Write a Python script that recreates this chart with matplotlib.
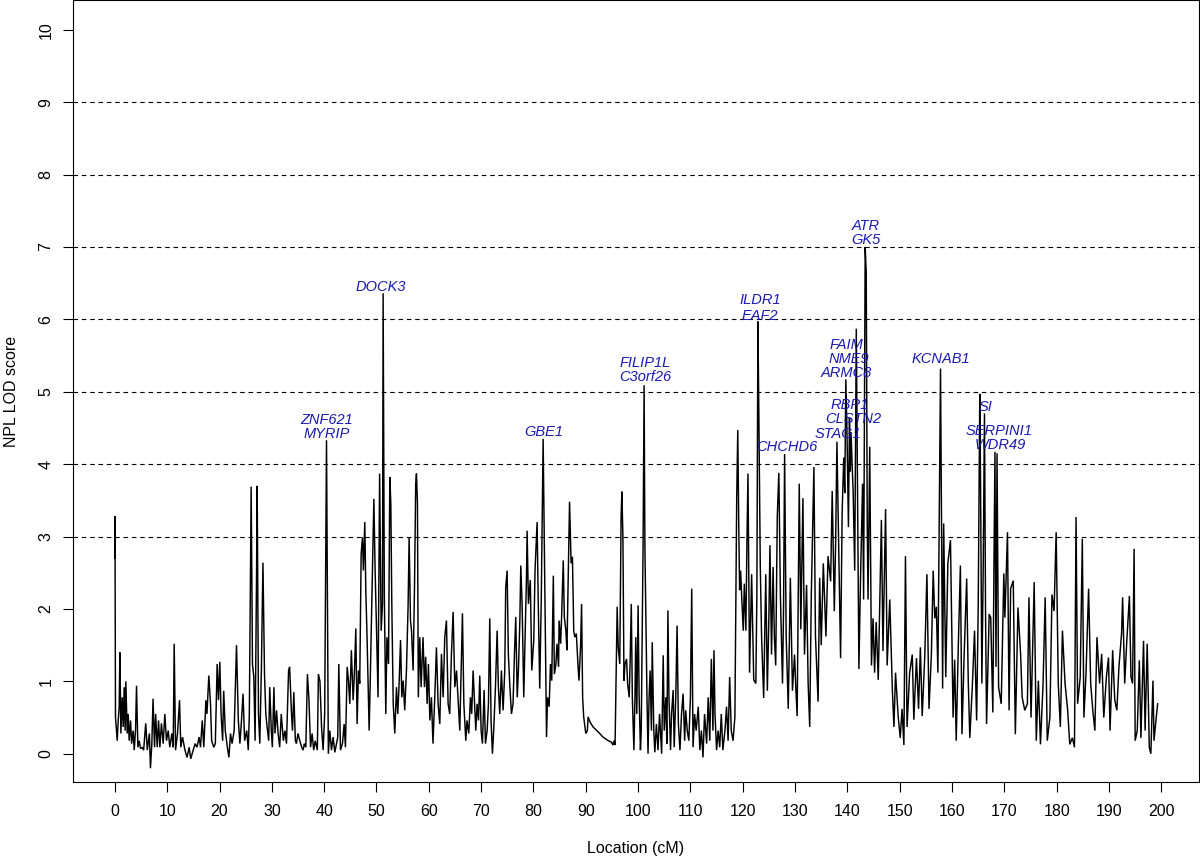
import matplotlib
matplotlib.use("Agg")
import matplotlib.pyplot as plt

plt.rcParams['font.family'] = ['Liberation Sans', 'DejaVu Sans']
plt.rcParams['lines.scale_dashes'] = False

# NPL LOD score along the chromosome, (location cM, LOD)
seg_000_041 = [
    (0.0, 2.7), (0.02, 3.28), (0.12, 0.5), (0.45, 0.18), (0.64, 0.46), (0.83, 0.65),
    (0.96, 1.4), (1.15, 0.28), (1.4, 0.78), (1.6, 0.37), (1.78, 0.92), (1.97, 0.32),
    (2.1, 1.0), (2.36, 0.28), (2.55, 0.55), (2.74, 0.18), (3.0, 0.46), (3.2, 0.14),
    (3.5, 0.32), (3.7, 0.05), (3.95, 0.32), (4.14, 0.94), (4.4, 0.09), (4.65, 0.18),
    (4.9, 0.07), (5.2, 0.09), (5.5, 0.05), (5.9, 0.42), (6.2, 0.05), (6.6, 0.28),
    (6.8, -0.2), (7.07, 0.14), (7.3, 0.76), (7.58, 0.09), (7.8, 0.55), (8.09, 0.09),
    (8.35, 0.46), (8.6, 0.09), (8.9, 0.42), (9.24, 0.14), (9.55, 0.55), (9.87, 0.18),
    (10.2, 0.32), (10.5, 0.09), (10.9, 0.28), (11.15, 0.09), (11.34, 1.52), (11.6, 0.05),
    (11.97, 0.28), (12.36, 0.74), (12.6, 0.09), (12.93, 0.23), (13.4, 0.05), (13.8, -0.05),
    (14.2, 0.09), (14.5, -0.07), (14.97, 0.05), (15.35, 0.14), (15.7, 0.09), (16.1, 0.23),
    (16.37, 0.09), (16.7, 0.46), (17.0, 0.09), (17.4, 0.74), (17.6, 0.55), (17.96, 1.08),
    (18.28, 0.69), (18.5, 0.18), (18.9, 0.09), (19.2, 0.14), (19.55, 1.24), (19.8, 0.74),
    (20.06, 1.27), (20.3, 0.55), (20.6, 0.18), (20.8, 0.87), (21.1, 0.32), (21.5, 0.09),
    (21.8, -0.05), (22.1, 0.28), (22.4, 0.14), (22.8, 0.32), (23.25, 1.5), (23.6, 0.46),
    (23.9, 0.14), (24.2, 0.46), (24.5, 0.83), (24.8, 0.18), (25.2, 0.32), (25.5, 0.05),
    (25.7, 0.55), (25.9, 2.4), (26.05, 3.69), (26.3, 1.24), (26.56, 1.06), (26.8, 0.18),
    (27.07, 2.4), (27.2, 3.7), (27.45, 0.55), (27.7, 0.14), (28.0, 1.15), (28.3, 2.64),
    (28.6, 1.1), (28.85, 0.55), (29.1, 0.37), (29.4, 0.18), (29.6, 0.92), (29.9, 0.32),
    (30.1, 0.09), (30.4, 0.92), (30.6, 0.28), (30.9, 0.6), (31.2, 0.28), (31.5, 0.09),
    (31.8, 0.55), (32.2, 0.18), (32.5, 0.32), (32.8, 0.14), (33.2, 1.15), (33.4, 1.2),
    (33.76, 0.55), (33.95, 0.32), (34.2, 0.85), (34.5, 0.18), (34.7, 0.14), (35.0, 0.28),
    (35.35, 0.18), (35.7, 0.09), (35.98, 0.05), (36.2, 0.14), (36.5, 0.09), (36.8, 1.1),
    (37.1, 0.74), (37.4, 0.09), (37.7, 0.28), (38.0, 0.05), (38.3, 0.18), (38.7, 0.05),
    (38.9, 1.1), (39.2, 1.0), (39.5, 0.37), (39.8, 0.05), (40.1, 0.55), (40.45, 4.33),
    (40.8, 0.0),
]
seg_041_081 = [
    (41.08, 0.32), (41.4, 0.05), (41.72, 0.23), (42.04, 0.02), (42.35, 0.14), (42.6, 0.23),
    (42.8, 1.24), (43.12, 0.05), (43.5, 0.14), (43.82, 0.41), (44.07, 0.09), (44.4, 1.2),
    (44.65, 1.01), (44.9, 0.69), (45.2, 1.43), (45.54, 0.74), (45.8, 1.15), (46.05, 1.73),
    (46.3, 0.41), (46.56, 1.15), (46.8, 0.97), (47.07, 2.76), (47.32, 2.99), (47.5, 2.53),
    (47.77, 3.2), (47.96, 2.26), (48.2, 1.61), (48.6, 0.32), (48.85, 1.15), (49.1, 2.07),
    (49.5, 3.52), (49.74, 2.53), (50.0, 1.75), (50.3, 0.78), (50.6, 3.87), (50.9, 1.7),
    (51.15, 2.07), (51.27, 6.36), (51.5, 2.21), (51.78, 0.55), (52.0, 1.61), (52.3, 1.24),
    (52.55, 3.82), (52.74, 3.46), (52.93, 2.07), (53.2, 0.69), (53.5, 0.28), (53.82, 0.92),
    (54.07, 0.55), (54.3, 0.92), (54.6, 1.57), (54.84, 0.78), (55.1, 1.01), (55.4, 0.6),
    (55.73, 1.15), (56.05, 2.07), (56.24, 2.99), (56.5, 1.84), (56.7, 1.7), (57.0, 1.15),
    (57.26, 2.26), (57.5, 3.73), (57.64, 3.87), (57.83, 3.46), (58.0, 0.78), (58.28, 1.61),
    (58.53, 0.92), (58.9, 1.61), (59.17, 0.92), (59.4, 1.34), (59.68, 0.69), (59.93, 1.24),
    (60.2, 0.46), (60.5, 0.78), (60.8, 0.14), (61.14, 0.78), (61.46, 1.47), (61.78, 0.69),
    (62.1, 0.41), (62.42, 1.38), (62.74, 0.78), (63.05, 1.61), (63.37, 1.84), (63.69, 0.69),
    (64.0, 0.55), (64.33, 1.38), (64.65, 1.96), (64.97, 0.92), (65.3, 1.15), (65.6, 0.74),
    (65.92, 0.32), (66.18, 1.15), (66.43, 1.94), (66.7, 0.69), (67.07, 0.18), (67.3, 0.46),
    (67.64, 0.28), (67.96, 0.78), (68.2, 0.55), (68.47, 1.15), (68.7, 0.78), (68.98, 0.32),
    (69.23, 0.69), (69.5, 0.46), (69.74, 1.08), (70.0, 0.32), (70.25, 0.14), (70.57, 0.88),
    (70.83, 0.14), (71.15, 0.32), (71.4, 0.69), (71.65, 1.87), (71.9, 0.46), (72.16, 0.0),
    (72.4, 0.32), (72.74, 0.92), (73.06, 1.7), (73.3, 0.92), (73.56, 0.55), (73.88, 1.15),
    (74.2, 0.6), (74.52, 1.15), (74.7, 2.3), (74.97, 2.53), (75.2, 1.38), (75.5, 0.92),
    (75.8, 0.55), (76.1, 0.69), (76.37, 1.38), (76.62, 1.89), (76.9, 0.78), (77.13, 1.15),
    (77.4, 1.84), (77.58, 2.6), (77.83, 2.07), (78.15, 0.78), (78.4, 1.61), (78.66, 2.4),
    (78.79, 3.08), (79.04, 2.07), (79.4, 2.4), (79.68, 1.15), (80.06, 1.57), (80.3, 2.53),
    (80.7, 3.2), (80.9, 2.17),
]
seg_081_121 = [
    (81.2, 0.9), (81.5, 2.17), (81.85, 4.35), (82.2, 2.17), (82.5, 0.23), (82.7, 0.78),
    (83.0, 0.65), (83.25, 1.24), (83.5, 1.01), (83.8, 2.46), (84.0, 1.1), (84.3, 1.24),
    (84.5, 1.52), (84.8, 1.2), (84.9, 1.84), (85.2, 1.52), (85.4, 1.93), (85.7, 2.67),
    (85.9, 1.89), (86.2, 1.7), (86.4, 1.43), (86.7, 2.63), (86.9, 3.48), (87.2, 2.63),
    (87.45, 2.72), (87.7, 1.7), (87.9, 1.61), (88.2, 1.66), (88.5, 1.24), (88.7, 1.01),
    (89.0, 1.47), (89.2, 2.07), (89.4, 0.78), (89.6, 0.51), (90.0, 0.28), (90.3, 0.32),
    (90.45, 0.51), (90.8, 0.44), (91.4, 0.37), (92.4, 0.3), (93.3, 0.23), (94.3, 0.18),
    (94.9, 0.16), (95.2, 0.12), (95.4, 0.18), (95.6, 0.12), (96.0, 2.03), (96.2, 1.47),
    (96.5, 1.24), (96.75, 3.27), (96.9, 3.62), (97.0, 3.27), (97.1, 2.99), (97.3, 1.01),
    (97.5, 1.24), (97.8, 1.31), (98.0, 0.97), (98.3, 0.78), (98.5, 1.34), (98.7, 2.07),
    (98.9, 0.78), (99.2, 0.05), (99.4, 0.78), (99.55, 1.61), (99.75, 0.55), (100.0, 2.05),
    (100.2, 0.78), (100.45, 0.05), (100.6, 0.32), (100.8, 1.7), (100.95, 2.86), (101.15, 5.09),
    (101.3, 2.86), (101.5, 1.8), (101.7, 0.78), (101.9, 0.0), (102.1, 0.78), (102.3, 1.15),
    (102.55, 0.32), (102.7, 1.54), (103.0, 0.32), (103.2, 0.02), (103.5, 0.41), (103.8, 0.05),
    (104.1, 0.55), (104.5, 0.0), (104.8, 1.36), (105.0, 0.32), (105.3, 0.78), (105.5, 0.14),
    (105.7, 1.98), (105.9, 0.78), (106.2, 0.05), (106.4, 0.55), (106.7, 0.88), (106.9, 0.09),
    (107.2, 0.78), (107.45, 1.77), (107.7, 0.41), (108.0, 0.05), (108.3, 0.55), (108.6, 0.83),
    (108.9, 0.18), (109.1, 0.6), (109.4, 0.32), (109.7, 0.18), (110.0, 0.78), (110.25, 2.28),
    (110.5, 0.09), (110.8, 0.55), (111.1, 0.32), (111.5, 0.65), (111.8, 0.05), (112.1, 0.32),
    (112.4, -0.05), (112.7, 0.55), (113.1, 0.14), (113.4, 0.78), (113.7, 0.18), (114.0, 1.31),
    (114.3, 0.32), (114.5, 1.43), (114.7, 0.55), (115.0, 0.05), (115.3, 0.32), (115.6, 0.09),
    (115.9, 0.55), (116.2, 0.05), (116.6, 0.32), (116.9, 0.65), (117.2, 0.18), (117.5, 1.06),
    (117.8, 0.32), (118.15, 0.18), (118.5, 0.51), (118.7, 2.35), (118.85, 3.55), (119.05, 4.47),
    (119.25, 3.08), (119.4, 2.26), (119.6, 2.53), (119.8, 2.17), (120.1, 1.7), (120.3, 2.35),
    (120.6, 1.7), (120.8, 2.9), (121.0, 3.87),
]
seg_121_158 = [
    (121.3, 1.12), (121.7, 2.48), (122.1, 1.02), (122.5, 0.97), (122.7, 2.2), (122.9, 5.97),
    (123.1, 4.54), (123.35, 2.6), (123.6, 1.62), (124.0, 0.77), (124.4, 2.48), (124.7, 0.87),
    (125.0, 1.9), (125.2, 2.88), (125.5, 1.37), (125.8, 2.58), (126.05, 1.6), (126.3, 1.22),
    (126.6, 3.28), (126.9, 3.88), (127.2, 2.18), (127.6, 0.97), (127.8, 2.0), (128.0, 4.14),
    (128.3, 1.62), (128.7, 0.62), (129.1, 2.43), (129.5, 0.87), (129.9, 1.37), (130.15, 0.9),
    (130.4, 0.52), (130.8, 3.73), (131.1, 1.72), (131.5, 3.53), (131.8, 1.37), (132.2, 2.33),
    (132.5, 0.97), (132.8, 0.37), (133.1, 2.18), (133.6, 3.96), (133.9, 1.62), (134.4, 0.72),
    (134.7, 2.43), (135.0, 1.5), (135.4, 2.63), (135.9, 1.62), (136.3, 2.73), (136.8, 2.38),
    (137.1, 3.63), (137.5, 1.97), (137.75, 2.9), (138.0, 4.31), (138.4, 2.63), (138.7, 1.32),
    (139.0, 3.33), (139.3, 4.09), (139.5, 3.6), (139.7, 5.17), (139.9, 4.54), (140.2, 3.13),
    (140.4, 4.64), (140.55, 3.9), (140.7, 4.44), (140.9, 4.0), (141.1, 3.63), (141.4, 2.53),
    (141.7, 5.87), (142.0, 3.13), (142.2, 1.17), (142.5, 2.38), (142.9, 3.73), (143.1, 2.13),
    (143.4, 7.0), (143.6, 6.65), (143.8, 3.13), (143.95, 2.13), (144.27, 4.24), (144.6, 1.22),
    (144.9, 1.87), (145.2, 1.12), (145.5, 1.82), (145.9, 1.02), (146.5, 3.23), (146.8, 1.42),
    (147.3, 3.38), (147.6, 1.22), (148.1, 2.13), (148.6, 0.87), (148.9, 0.37), (149.2, 1.12),
    (149.7, 0.52), (150.1, 0.22), (150.45, 0.62), (150.8, 0.12), (151.1, 2.73), (151.4, 0.37),
    (151.9, 1.12), (152.4, 1.37), (152.7, 0.47), (153.2, 1.32), (153.6, 0.62), (153.95, 1.47),
    (154.3, 0.52), (154.8, 1.37), (155.2, 2.48), (155.6, 0.62), (156.05, 1.37), (156.4, 2.53),
    (156.7, 1.87), (157.0, 2.03), (157.3, 1.12), (157.8, 5.32),
]
seg_158_200 = [
    (158.2, 0.9), (158.4, 3.18), (158.8, 1.06), (159.2, 2.63), (159.7, 2.95), (160.2, 0.5),
    (160.5, 1.3), (160.8, 0.18), (161.2, 1.5), (161.6, 2.6), (161.9, 0.27), (162.3, 1.33),
    (162.8, 2.42), (163.1, 1.0), (163.4, 0.22), (163.9, 0.97), (164.3, 1.7), (164.7, 0.46),
    (165.0, 2.0), (165.3, 4.97), (165.45, 3.73), (165.7, 0.97), (165.95, 2.5), (166.2, 4.7),
    (166.4, 2.0), (166.6, 0.41), (167.1, 1.93), (167.4, 1.88), (167.8, 0.57), (168.0, 2.5),
    (168.2, 4.17), (168.4, 1.2), (168.6, 4.15), (168.9, 0.92), (169.4, 0.69), (169.9, 2.49),
    (170.1, 1.88), (170.6, 3.06), (170.9, 0.6), (171.2, 2.28), (171.7, 2.39), (172.1, 0.27),
    (172.6, 2.02), (173.1, 1.38), (173.4, 0.78), (173.9, 0.6), (174.4, 0.69), (174.7, 2.16),
    (175.1, 0.5), (175.7, 2.37), (176.1, 0.18), (176.5, 1.01), (176.9, 0.13), (177.4, 0.97),
    (177.8, 2.16), (178.2, 0.18), (178.7, 0.5), (179.1, 2.2), (179.5, 1.97), (179.9, 3.06),
    (180.3, 0.97), (180.7, 0.37), (181.1, 1.7), (181.6, 0.97), (182.1, 0.6), (182.5, 0.13),
    (183.0, 0.22), (183.4, 0.09), (183.7, 3.27), (184.0, 0.69), (184.5, 1.06), (184.9, 2.97),
    (185.2, 0.5), (185.6, 1.1), (186.1, 2.28), (186.5, 0.97), (186.9, 0.6), (187.3, 0.32),
    (187.7, 1.61), (188.2, 0.97), (188.6, 1.38), (189.0, 0.5), (189.5, 1.06), (189.9, 1.33),
    (190.2, 0.32), (190.7, 1.43), (191.1, 0.74), (191.5, 0.6), (191.9, 1.2), (192.4, 1.66),
    (192.6, 2.16), (193.0, 0.97), (193.4, 1.56), (193.9, 2.18), (194.2, 1.06), (194.5, 0.97),
    (194.8, 2.83), (195.0, 0.18), (195.4, 0.32), (195.8, 1.29), (196.1, 0.22), (196.6, 1.56),
    (196.9, 0.32), (197.3, 1.52), (197.7, 0.09), (198.0, 0.0), (198.4, 1.01), (198.6, 0.18),
    (198.9, 0.41), (199.3, 0.69),
]

# gene annotations: name, location (cM), LOD height of the label
gene_names = ["DOCK3", "ZNF621", "MYRIP", "GBE1", "FILIP1L", "C3orf26", "ILDR1", "EAF2",
              "CHCHD6", "FAIM", "NME9", "ARMC8", "RBP1", "CLSTN2", "STAG1", "ATR", "GK5",
              "KCNAB1", "SI", "SERPINI1", "WDR49"]
gene_cm = [50.9, 40.45, 40.45, 81.9, 101.3, 101.3, 123.3, 123.3,
           128.4, 139.8, 140.2, 139.8, 140.5, 141.2, 138.2, 143.5, 143.5,
           157.85, 166.4, 169.0, 169.2]
gene_lod = [6.44, 4.61, 4.42, 4.45, 5.39, 5.2, 6.26, 6.05,
            4.23, 5.65, 5.45, 5.26, 4.81, 4.62, 4.42, 7.29, 7.1,
            5.45, 4.79, 4.46, 4.26]

threshold_lines = [3, 4, 5, 6, 7, 8, 9]
x_ticks = list(range(0, 201, 10))
y_ticks = list(range(0, 11))

points = seg_000_041 + seg_041_081 + seg_081_121 + seg_121_158 + seg_158_200
cm = [p[0] for p in points]
lod = [p[1] for p in points]

fig = plt.figure(figsize=(12, 8.58), dpi=100)
ax = fig.add_axes([73 / 1200, 1 - 782 / 858, 1126 / 1200, 782 / 858])

for h in threshold_lines:
    ax.axhline(h, color='black', lw=0.8, dashes=(3.3, 2.7))

ax.plot(cm, lod, color='black', lw=1.05, solid_joinstyle='miter')

for name, gx, gy in zip(gene_names, gene_cm, gene_lod):
    ax.text(gx, gy, name, color='#1a1ab4', fontsize=10.5, style='italic',
            ha='center', va='center')

ax.set_xlim(-8.0, 207.2)
ax.set_ylim(-0.39, 10.41)
ax.set_xticks(x_ticks)
ax.set_yticks(y_ticks)
ax.set_xticklabels([str(t) for t in x_ticks])
ax.set_yticklabels([str(t) for t in y_ticks], rotation=90, va='center')
ax.tick_params(axis='both', length=7, width=0.8, labelsize=11.5, direction='out')
ax.tick_params(axis='x', pad=9)
ax.tick_params(axis='y', pad=7)
for s in ax.spines.values():
    s.set_linewidth(0.8)

fig.text(12 / 1200, 1 - 391 / 858, "NPL LOD score", rotation=90, ha='center', va='center',
         fontsize=11.5)
fig.text(636 / 1200, 1 - 848 / 858, "Location (cM)", ha='center', va='center', fontsize=11.5)

fig.savefig("out.png", dpi=100)
